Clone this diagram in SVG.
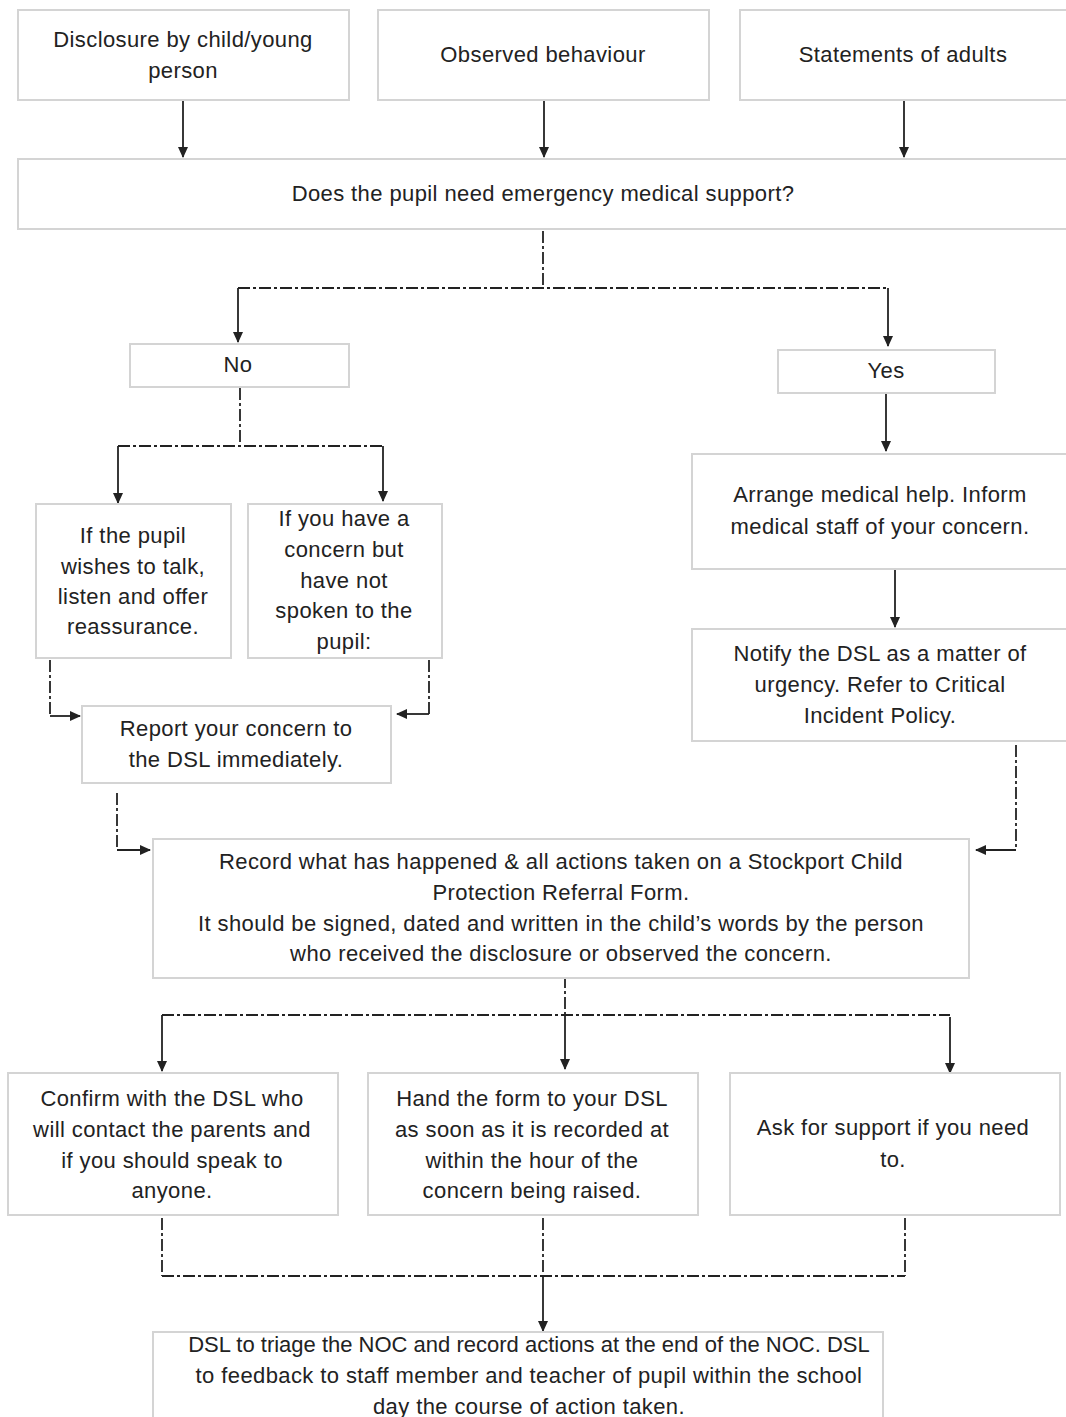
<svg xmlns="http://www.w3.org/2000/svg" width="1066" height="1417" viewBox="0 0 1066 1417">
<style>
.box{fill:#fff;stroke:#d4d4d4;stroke-width:2}
.t{font-family:"Liberation Sans",Arial,sans-serif;font-size:22px;letter-spacing:0.4px;fill:#222;text-anchor:middle}
.dd{fill:none;stroke:#222;stroke-width:1.8;stroke-dasharray:12 3 3 3}
.ar{fill:none;stroke:#222;stroke-width:1.8;marker-end:url(#ah)}
</style>
<defs>
<marker id="ah" markerUnits="userSpaceOnUse" markerWidth="12" markerHeight="12" refX="10" refY="6" orient="auto">
<path d="M0,1 L11,6 L0,11 z" fill="#222"/>
</marker>
</defs>
<rect width="1066" height="1417" fill="#fff"/>
<g id="connectors">
<path class="ar" d="M183,100 V157"/>
<path class="ar" d="M544,100 V157"/>
<path class="ar" d="M904,100 V157"/>
<path class="dd" d="M543,231 V288"/>
<path class="dd" d="M238,288 H888"/>
<path class="ar" d="M238,288 V342"/>
<path class="ar" d="M888,288 V346"/>
<path class="dd" d="M240,388 V446"/>
<path class="dd" d="M118,446 H383"/>
<path class="ar" d="M118,446 V503"/>
<path class="ar" d="M383,446 V501"/>
<path class="ar" d="M886,394 V451"/>
<path class="ar" d="M895,570 V627"/>
<path class="dd" d="M50,660 V716"/>
<path class="ar" d="M50,716 H80"/>
<path class="dd" d="M429,660 V714"/>
<path class="ar" d="M429,714 H397"/>
<path class="dd" d="M117,793 V850"/>
<path class="ar" d="M117,850 H150"/>
<path class="dd" d="M1016,745 V850"/>
<path class="ar" d="M1016,850 H976"/>
<path class="dd" d="M565,955 V1015"/>
<path class="dd" d="M162,1015 H950"/>
<path class="ar" d="M162,1015 V1071"/>
<path class="ar" d="M565,1015 V1069"/>
<path class="ar" d="M950,1017 V1073"/>
<path class="dd" d="M162,1218 V1276"/>
<path class="dd" d="M543,1218 V1276"/>
<path class="dd" d="M905,1218 V1276"/>
<path class="dd" d="M162,1276 H905"/>
<path class="ar" d="M543,1276 V1331"/>
</g>
<g id="n-disclosure">
<rect class="box" x="18" y="10" width="331" height="90"/>
<text class="t" x="183" y="47">Disclosure by child/young</text>
<text class="t" x="183" y="78">person</text>
</g>
<g id="n-observed">
<rect class="box" x="378" y="10" width="331" height="90"/>
<text class="t" x="543" y="62">Observed behaviour</text>
</g>
<g id="n-statements">
<rect class="box" x="740" y="10" width="340" height="90"/>
<text class="t" x="903" y="62">Statements of adults</text>
</g>
<g id="n-emergency">
<rect class="box" x="18" y="159" width="1060" height="70"/>
<text class="t" x="543" y="201">Does the pupil need emergency medical support?</text>
</g>
<g id="n-no">
<rect class="box" x="130" y="344" width="219" height="43"/>
<text class="t" x="238" y="372">No</text>
</g>
<g id="n-yes">
<rect class="box" x="778" y="350" width="217" height="43"/>
<text class="t" x="886" y="378">Yes</text>
</g>
<g id="n-wishes">
<rect class="box" x="36" y="504" width="195" height="154"/>
<text class="t" x="133" y="543">If the pupil</text>
<text class="t" x="133" y="574">wishes to talk,</text>
<text class="t" x="133" y="604">listen and offer</text>
<text class="t" x="133" y="634">reassurance.</text>
</g>
<g id="n-concern">
<rect class="box" x="248" y="504" width="194" height="154"/>
<text class="t" x="344" y="526">If you have a</text>
<text class="t" x="344" y="557">concern but</text>
<text class="t" x="344" y="588">have not</text>
<text class="t" x="344" y="618">spoken to the</text>
<text class="t" x="344" y="649">pupil:</text>
</g>
<g id="n-arrange">
<rect class="box" x="692" y="454" width="380" height="115"/>
<text class="t" x="880" y="502">Arrange medical help. Inform</text>
<text class="t" x="880" y="534">medical staff of your concern.</text>
</g>
<g id="n-notify">
<rect class="box" x="692" y="629" width="380" height="112"/>
<text class="t" x="880" y="661">Notify the DSL as a matter of</text>
<text class="t" x="880" y="692">urgency.  Refer to Critical</text>
<text class="t" x="880" y="723">Incident Policy.</text>
</g>
<g id="n-report">
<rect class="box" x="82" y="706" width="309" height="77"/>
<text class="t" x="236" y="736">Report your concern to</text>
<text class="t" x="236" y="767">the DSL immediately.</text>
</g>
<g id="n-record">
<rect class="box" x="153" y="839" width="816" height="139"/>
<text class="t" x="561" y="869">Record what has happened &amp; all actions taken on a Stockport Child</text>
<text class="t" x="561" y="900">Protection Referral Form.</text>
<text class="t" x="561" y="931">It should be signed, dated and written in the child’s words by the person</text>
<text class="t" x="561" y="961">who received the disclosure or observed the concern.</text>
</g>
<g id="n-confirm">
<rect class="box" x="8" y="1073" width="330" height="142"/>
<text class="t" x="172" y="1106">Confirm with the DSL who</text>
<text class="t" x="172" y="1137">will contact the parents and</text>
<text class="t" x="172" y="1168">if you should speak to</text>
<text class="t" x="172" y="1198">anyone.</text>
</g>
<g id="n-hand">
<rect class="box" x="368" y="1073" width="330" height="142"/>
<text class="t" x="532" y="1106">Hand the form to your DSL</text>
<text class="t" x="532" y="1137">as soon as it is recorded at</text>
<text class="t" x="532" y="1168">within the hour of the</text>
<text class="t" x="532" y="1198">concern being raised.</text>
</g>
<g id="n-ask">
<rect class="box" x="730" y="1073" width="330" height="142"/>
<text class="t" x="893" y="1135">Ask for support if you need</text>
<text class="t" x="893" y="1167">to.</text>
</g>
<g id="n-triage">
<rect class="box" x="153" y="1332" width="730" height="100"/>
<text class="t" x="529" y="1352" style="letter-spacing:0">DSL to triage the NOC and record actions at the end of the NOC. DSL</text>
<text class="t" x="529" y="1383">to feedback to staff member and teacher of pupil within the school</text>
<text class="t" x="529" y="1414">day the course of action taken.</text>
</g>
</svg>
